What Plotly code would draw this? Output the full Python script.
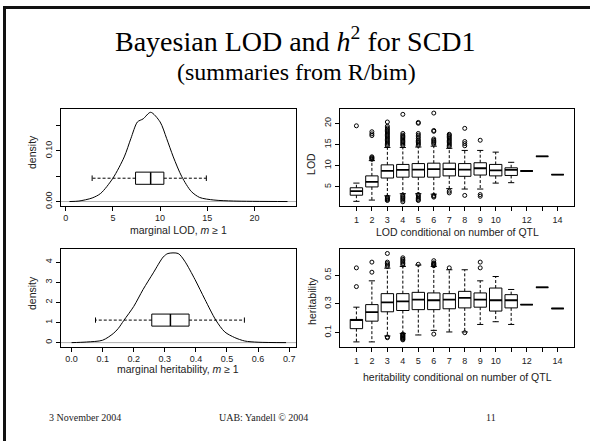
import plotly.graph_objects as go

W, H = 590, 444

# ---------------- data ----------------
# marginal LOD density
lod_x = [0.4, 1.4, 2.8, 3.7, 5.0, 6.2, 6.9, 7.6, 8.2, 9.0, 10.0, 10.7, 11.4, 12.3, 13.3, 14.2, 15.7, 17.8, 23.5]
lod_d = [0.0, 0.001, 0.007, 0.016, 0.046, 0.088, 0.124, 0.157, 0.163, 0.176, 0.157, 0.124, 0.088, 0.049, 0.020, 0.008, 0.003, 0.001, 0.0]
lod_box = dict(lo=2.8, q1=7.4, med=9.0, q3=10.4, hi=14.9, pos=0.046)

# marginal heritability density
h_x = [0.0, 0.048, 0.1, 0.134, 0.15, 0.168, 0.2, 0.23, 0.263, 0.295, 0.31, 0.343, 0.364, 0.397, 0.429, 0.464, 0.493, 0.525, 0.557, 0.6, 0.69]
h_d = [0.0, 0.03, 0.12, 0.45, 0.7, 1.1, 1.8, 2.64, 3.47, 4.26, 4.43, 4.43, 4.05, 3.14, 2.15, 1.12, 0.53, 0.25, 0.08, 0.02, 0.0]
h_box = dict(lo=0.077, q1=0.258, med=0.318, q3=0.378, hi=0.556, pos=1.12)

# LOD conditional on number of QTL
nqtl = list(range(1, 15))
lod_q1 = [3.05, 5.0, 7.1, 7.3, 7.3, 7.3, 7.6, 7.5, 7.8, 7.6, 7.7, 8.75, 12.2, 7.9]
lod_med = [4.0, 6.2, 8.8, 9.0, 9.1, 9.2, 9.2, 9.1, 9.4, 8.9, 9.0, 8.75, 12.2, 7.9]
lod_q3 = [4.8, 7.6, 10.2, 10.3, 10.5, 10.6, 10.6, 10.5, 10.7, 10.3, 9.5, 8.75, 12.2, 7.9]
lod_lo = [1.6, 1.9, 2.9, 3.4, 3.4, 3.3, 4.6, 4.5, 4.5, 5.9, 6.0, 8.75, 12.2, 7.9]
lod_hi = [5.9, 11.2, 14.3, 14.3, 14.4, 14.6, 14.1, 13.6, 13.6, 13.2, 10.8, 8.75, 12.2, 7.9]
lod_out = {
    1: [19.4],
    2: [11.5, 11.7, 11.9, 12.1, 17.1, 17.5, 18.0],
    3: [1.8, 2.0, 2.2, 2.4, 2.6, 14.7, 15.0, 15.3, 15.6, 15.9, 16.2, 16.5, 16.8, 17.1, 17.4,
        17.7, 18.0, 18.3, 18.6, 18.9, 19.3, 20.3],
    4: [1.5, 1.9, 2.2, 2.5, 2.8, 3.1, 14.8, 15.1, 15.4, 15.7, 16.0, 16.3, 16.6, 16.9, 17.2, 17.6, 22.1],
    5: [1.8, 2.0, 2.3, 2.6, 2.9, 3.2, 14.8, 15.1, 15.4, 15.7, 16.0, 16.4, 16.8, 17.2, 17.6, 20.0, 20.2],
    6: [2.6, 2.8, 3.0, 15.1, 15.4, 15.7, 16.0, 16.3, 18.1, 18.3, 22.4],
    7: [3.6, 4.0, 14.5, 14.8, 15.1, 15.4, 15.7, 16.0, 16.3, 16.6, 16.9, 17.2, 17.4],
    8: [3.0, 14.7, 15.2, 15.7, 18.8],
    9: [2.8, 3.2, 16.0],
}

# heritability conditional on number of QTL
h_q1 = [0.128, 0.180, 0.245, 0.254, 0.260, 0.260, 0.266, 0.272, 0.277, 0.250, 0.272, 0.295, 0.415, 0.268]
h_med = [0.187, 0.243, 0.311, 0.318, 0.330, 0.325, 0.330, 0.341, 0.330, 0.325, 0.325, 0.295, 0.415, 0.268]
h_q3 = [0.192, 0.295, 0.371, 0.371, 0.380, 0.376, 0.371, 0.387, 0.376, 0.410, 0.364, 0.295, 0.415, 0.268]
h_lo = [0.036, 0.036, 0.077, 0.095, 0.084, 0.116, 0.105, 0.105, 0.157, 0.176, 0.157, 0.295, 0.415, 0.268]
h_hi = [0.277, 0.460, 0.548, 0.560, 0.570, 0.560, 0.537, 0.537, 0.460, 0.490, 0.400, 0.295, 0.415, 0.268]
h_out = {
    1: [0.42, 0.55],
    2: [0.52, 0.59],
    3: [0.065, 0.07, 0.56, 0.57, 0.58, 0.59, 0.65],
    4: [0.05, 0.055, 0.06, 0.065, 0.07, 0.075, 0.08, 0.085, 0.09, 0.57, 0.58, 0.59, 0.60, 0.61, 0.62],
    5: [0.575],
    6: [0.09, 0.565, 0.57, 0.575, 0.58, 0.585, 0.60],
    7: [0.55],
    8: [0.10],
    9: [0.55, 0.59],
}

lod_ticks = [5, 10, 15, 20]
h_ticks = [0.1, 0.3, 0.5]
q_ticktext = ["1", "2", "3", "4", "5", "6", "7", "8", "9", "10", "", "12", "", "14"]

# ---------------- helpers ----------------
def px(x):
    return x / W

def py(y):
    return 1 - y / H

fig = go.Figure()
BLACK = "#000000"


def vbox_traces(xa, ya, q1, med, q3, lo, hi, outs):
    bw, cw = 0.4, 0.2
    bx, by, mx, my, wx, wy, cx, cy, ox, oy = [], [], [], [], [], [], [], [], [], []
    for i, g in enumerate(nqtl):
        bx += [g - bw, g + bw, g + bw, g - bw, g - bw, None]
        by += [q1[i], q1[i], q3[i], q3[i], q1[i], None]
        mx += [g - bw, g + bw, None]
        my += [med[i], med[i], None]
        wx += [g, g, None, g, g, None]
        wy += [q3[i], hi[i], None, q1[i], lo[i], None]
        if hi[i] != lo[i]:
            cx += [g - cw, g + cw, None, g - cw, g + cw, None]
            cy += [hi[i], hi[i], None, lo[i], lo[i], None]
        for v in outs.get(g, []):
            ox.append(g)
            oy.append(v)
    fig.add_trace(go.Scatter(x=wx, y=wy, mode="lines", xaxis=xa, yaxis=ya,
                             line=dict(color=BLACK, width=1, dash="3px,2px"), hoverinfo="skip"))
    fig.add_trace(go.Scatter(x=bx, y=by, mode="lines", xaxis=xa, yaxis=ya,
                             line=dict(color=BLACK, width=1), hoverinfo="skip"))
    fig.add_trace(go.Scatter(x=cx, y=cy, mode="lines", xaxis=xa, yaxis=ya,
                             line=dict(color=BLACK, width=1), hoverinfo="skip"))
    fig.add_trace(go.Scatter(x=mx, y=my, mode="lines", xaxis=xa, yaxis=ya,
                             line=dict(color=BLACK, width=1.8), hoverinfo="skip"))
    fig.add_trace(go.Scatter(x=ox, y=oy, mode="markers", xaxis=xa, yaxis=ya,
                             marker=dict(symbol="circle-open", size=4, color=BLACK,
                                         line=dict(width=1, color=BLACK)), hoverinfo="skip"))


def hbox_traces(xa, ya, b, hh, ch):
    p = b["pos"]
    fig.add_trace(go.Scatter(x=[b["q3"], b["hi"], None, b["q1"], b["lo"]],
                             y=[p, p, None, p, p], mode="lines", xaxis=xa, yaxis=ya,
                             line=dict(color=BLACK, width=1, dash="3px,2px"), hoverinfo="skip"))
    fig.add_trace(go.Scatter(
        x=[b["q1"], b["q3"], b["q3"], b["q1"], b["q1"], None, b["hi"], b["hi"], None, b["lo"], b["lo"]],
        y=[p - hh, p - hh, p + hh, p + hh, p - hh, None, p - ch, p + ch, None, p - ch, p + ch],
        mode="lines", xaxis=xa, yaxis=ya, line=dict(color=BLACK, width=1), hoverinfo="skip"))
    fig.add_trace(go.Scatter(x=[b["med"], b["med"]], y=[p - hh, p + hh], mode="lines",
                             xaxis=xa, yaxis=ya, line=dict(color=BLACK, width=1.5), hoverinfo="skip"))


# top-left: LOD density
fig.add_trace(go.Scatter(x=[-1, 26], y=[0, 0], mode="lines", xaxis="x", yaxis="y",
                         line=dict(color="#b0b0b0", width=1), hoverinfo="skip"))
fig.add_trace(go.Scatter(x=lod_x, y=lod_d, mode="lines", xaxis="x", yaxis="y",
                         line=dict(color=BLACK, width=1, shape="spline", smoothing=0.8), hoverinfo="skip"))
hbox_traces("x", "y", lod_box, 0.012, 0.0055)

# top-right: LOD by nQTL
vbox_traces("x2", "y2", lod_q1, lod_med, lod_q3, lod_lo, lod_hi, lod_out)

# bottom-left: heritability density
fig.add_trace(go.Scatter(x=[-1, 1], y=[0, 0], mode="lines", xaxis="x3", yaxis="y3",
                         line=dict(color="#b0b0b0", width=1), hoverinfo="skip"))
fig.add_trace(go.Scatter(x=h_x, y=h_d, mode="lines", xaxis="x3", yaxis="y3",
                         line=dict(color=BLACK, width=1, shape="spline", smoothing=0.8), hoverinfo="skip"))
hbox_traces("x3", "y3", h_box, 0.3, 0.13)

# bottom-right: heritability by nQTL
vbox_traces("x4", "y4", h_q1, h_med, h_q3, h_lo, h_hi, h_out)

TICKFONT = dict(family="Liberation Sans", size=9, color="#222")
axcommon = dict(showgrid=False, zeroline=False, showline=True, mirror=True, linecolor=BLACK,
                linewidth=1, ticks="outside", ticklen=4, tickcolor=BLACK, tickfont=TICKFONT)

top_dom = [py(207), py(110)]
bot_dom = [py(349), py(251)]
left_dom = [px(61), px(296)]
right_dom = [px(340), px(574)]

fig.update_layout(
    width=W, height=H, margin=dict(l=0, r=0, t=0, b=0),
    paper_bgcolor="white", plot_bgcolor="white", showlegend=False,
    xaxis=dict(domain=left_dom, anchor="y", range=[-0.5, 24.4], tickvals=[0, 5, 10, 15, 20], **axcommon),
    yaxis=dict(domain=top_dom, anchor="x", range=[-0.008, 0.182], tickvals=[0, 0.05, 0.10, 0.15],
               ticktext=["0.00", "", "0.10", ""], tickangle=-90, **axcommon),
    xaxis2=dict(domain=right_dom, anchor="y2", range=[-0.06, 15.06], tickvals=nqtl, ticktext=q_ticktext,
                ticklabelstandoff=2, **axcommon),
    yaxis2=dict(domain=top_dom, anchor="x2", range=[0.6, 23.3], tickvals=lod_ticks, tickangle=-90, **axcommon),
    xaxis3=dict(domain=left_dom, anchor="y3", range=[-0.034, 0.722], tickvals=[0, 0.1, 0.2, 0.3, 0.4, 0.5, 0.6, 0.7],
                ticktext=["0.0", "0.1", "0.2", "0.3", "0.4", "0.5", "0.6", "0.7"], **axcommon),
    yaxis3=dict(domain=bot_dom, anchor="x3", range=[-0.2, 4.64], tickvals=[0, 1, 2, 3, 4], tickangle=-90, **axcommon),
    xaxis4=dict(domain=right_dom, anchor="y4", range=[-0.06, 15.06], tickvals=nqtl, ticktext=q_ticktext,
                ticklabelstandoff=2, **axcommon),
    yaxis4=dict(domain=bot_dom, anchor="x4", range=[0.003, 0.679], tickvals=h_ticks,
                ticktext=["0.1", "0.3", "0.5"], tickangle=-90, **axcommon),
)

AXFONT = dict(family="Liberation Sans", size=10.5, color="#222")
SERIF = "Liberation Serif"

def ann(text, x, y, font, angle=0):
    fig.add_annotation(text=text, x=px(x), y=py(y), xref="paper", yref="paper",
                       showarrow=False, font=font, textangle=angle, xanchor="center", yanchor="middle")

ann("Bayesian LOD and <i>h</i><sup>2</sup> for SCD1", 295, 40, dict(family=SERIF, size=28, color="black"))
ann("(summaries from R/bim)", 296, 72, dict(family=SERIF, size=24, color="black"))

ann("density", 32, 153, AXFONT, -90)
ann("marginal LOD, <i>m</i> ≥ 1", 178, 232, AXFONT)
ann("LOD", 311, 165, AXFONT, -90)
ann("LOD conditional on number of QTL", 457, 234, AXFONT)
ann("density", 32, 295, AXFONT, -90)
ann("marginal heritability, <i>m</i> ≥ 1", 178, 372, AXFONT)
ann("heritability", 312, 303, AXFONT, -90)
ann("heritability conditional on number of QTL", 457, 380, AXFONT)

FOOT = dict(family=SERIF, size=10, color="#222")
ann("3 November 2004", 85, 420, FOOT)
ann("UAB: Yandell © 2004", 263, 420, FOOT)
ann("11", 491, 420, FOOT)

# slide frame (top and left rules)
fig.add_shape(type="line", xref="paper", yref="paper", x0=px(3), x1=1.0, y0=py(7.5), y1=py(7.5),
              line=dict(color="#111", width=3))
fig.add_shape(type="line", xref="paper", yref="paper", x0=px(4.5), x1=px(4.5), y0=py(6), y1=0,
              line=dict(color="#111", width=3))

fig.write_html("out.html")
